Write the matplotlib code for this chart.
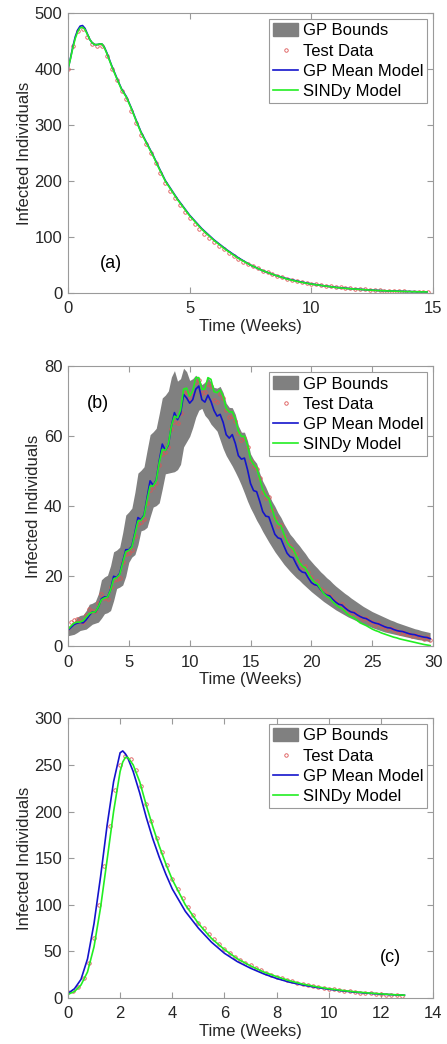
import matplotlib
matplotlib.use("Agg")
import matplotlib.pyplot as plt
from matplotlib.patches import Patch
from matplotlib.lines import Line2D

plt.rcParams['font.family'] = ['Liberation Sans', 'DejaVu Sans']

# ---------------- panel (a) ----------------
t_a = [0, 0.1, 0.2, 0.3, 0.4, 0.5, 0.6, 0.7, 0.8, 0.9, 1.0, 1.1, 1.2, 1.3, 1.4, 1.5,
       1.6, 1.8, 2.0, 2.2, 2.4, 2.6, 2.8, 3.0, 3.25, 3.5, 3.75, 4.0, 4.5, 5.0, 5.5,
       6.0, 6.5, 7.0, 7.5, 8.0, 8.5, 9.0, 9.5, 10.0, 10.5, 11.0, 11.5, 12.0, 12.5,
       13.0, 13.5, 14.0, 14.5, 14.75]
gp_mean_a = [400, 419, 440, 458, 470, 477, 478, 473, 463, 453, 447, 444, 444, 445,
             445, 439, 429, 406, 385, 365, 351, 331, 309, 288, 267, 246, 223, 201,
             168, 139, 115, 95, 78, 63, 50, 40, 32, 25.5, 20.5, 16.2, 13, 10.2, 8.2,
             6.6, 5.1, 4.1, 3.3, 2.7, 2.2, 2.0]
sindy_a = [400, 418, 438, 455, 467, 474, 475, 471, 462, 453, 447, 444, 444, 445,
           445, 438, 428, 405, 384, 364, 350, 330, 308, 287, 266, 245, 222, 200,
           167, 138, 114, 94, 77, 62, 50, 40, 32, 25, 20, 16, 13, 10, 8, 6.5, 5,
           4, 3.2, 2.6, 2.1, 2.0]
t_test_a = [0.2 * i for i in range(75)]
test_a = [401, 442, 468, 472, 458, 445, 442, 441, 424, 401,
          380, 361, 346, 326, 304, 283, 266, 250, 232, 214,
          196, 182, 169, 157, 145, 134, 124, 115, 106, 98,
          91, 84, 78, 72, 66, 61, 56, 52, 48, 44,
          40, 37, 34, 31, 28.5, 26, 24, 22, 20, 18.5,
          17, 15.6, 14.3, 13.1, 12.0, 11.0, 10.1, 9.2, 8.4, 7.7,
          7.0, 6.4, 5.8, 5.3, 4.8, 4.4, 4.0, 3.6, 3.3, 3.0,
          2.7, 2.4, 2.2, 2.0, 1.8]

# ---------------- panel (b) ----------------
t_b = [0.25 * i for i in range(120)]
gp_mean_b = [4.5, 5.4, 6.2, 6.6, 6.8, 6.7, 7.6, 8.8, 9.8, 9.7, 11.2, 13.6,
             14.1, 14.0, 16.2, 20.0, 19.7, 20.8, 24.2, 27.6, 27.6, 28.6, 32.5, 36.8,
             36.2, 37.5, 42.5, 47.3, 46.0, 47.5, 53.0, 57.8, 56.0, 57.5, 63.0, 66.8,
             64.8, 66.5, 72.0, 71.0, 69.5, 70.5, 73.5, 74.4, 70.5, 69.8, 71.8, 70.0,
             67.4, 65.8, 66.3, 64.0, 60.5, 59.5, 60.5, 58.0, 54.5, 53.5, 53.8, 50.5,
             46.5, 44.5, 44.2, 41.5, 38.5, 37.2, 37.0, 34.5, 32.0, 31.0, 30.7, 28.6,
             26.6, 25.6, 25.3, 23.5, 21.9, 21.2, 21.0, 19.5, 18.2, 17.6, 17.4, 16.2,
             15.2, 14.6, 14.4, 13.4, 12.6, 12.0, 11.8, 11.0, 10.3, 9.8, 9.6, 9.0,
             8.5, 8.1, 7.9, 7.4, 6.9, 6.6, 6.4, 6.0, 5.6, 5.3, 5.2, 4.8, 4.5, 4.3,
             4.2, 3.9, 3.6, 3.4, 3.3, 3.0, 2.8, 2.6, 2.5, 2.2]
sindy_b = [4.8, 5.8, 6.6, 6.9, 6.9, 7.3, 8.3, 9.3, 9.7, 9.8, 11.3, 13.3,
           13.8, 14.0, 16.0, 19.2, 19.6, 20.5, 23.8, 27.0, 27.4, 28.3, 32.0, 35.8,
           36.0, 37.2, 41.8, 45.8, 45.8, 47.3, 52.5, 56.3, 56.0, 57.8, 63.0, 65.8,
           65.3, 67.5, 73.5, 73.8, 71.5, 73.0, 76.8, 76.8, 73.5, 73.5, 76.8, 76.3,
           72.8, 72.5, 73.3, 71.5, 68.0, 67.0, 67.0, 65.0, 61.5, 60.0, 60.0, 57.5,
           53.5, 52.0, 51.0, 48.0, 44.8, 43.0, 42.3, 39.5, 36.5, 35.0, 34.4, 32.0,
           29.7, 28.5, 27.9, 25.9, 24.0, 22.9, 22.4, 20.8, 19.3, 18.3, 17.8, 16.4,
           15.1, 14.3, 13.8, 12.7, 11.9, 11.2, 10.8, 10.0, 9.1, 8.5, 8.1, 7.4,
           6.7, 6.3, 5.9, 5.4, 4.9, 4.5, 4.2, 3.8, 3.5, 3.2, 2.9, 2.6, 2.4, 2.1,
           1.9, 1.7, 1.5, 1.3, 1.1, 0.9, 0.7, 0.5, 0.35, 0.2]
test_b = [5.2, 6.8, 7.4, 7.9, 7.2, 7.0, 8.9, 10.6, 10.2, 10.0, 12.4, 14.8,
          13.9, 13.6, 16.8, 19.0, 19.2, 19.6, 24.0, 26.5, 26.8, 27.5, 31.5, 35.0,
          35.6, 36.5, 41.0, 44.6, 45.5, 46.8, 51.8, 55.0, 55.5, 57.0, 62.0, 64.0,
          63.8, 66.8, 72.5, 72.8, 71.0, 72.3, 75.5, 76.0, 72.5, 72.8, 75.0, 74.5,
          70.5, 69.8, 72.0, 71.0, 67.5, 65.5, 65.8, 64.5, 61.0, 59.0, 59.5, 57.0,
          53.0, 51.5, 50.8, 48.2, 44.0, 42.5, 42.8, 39.0, 36.8, 34.5, 34.8, 31.5,
          30.2, 28.8, 27.5, 26.5, 24.5, 22.6, 22.8, 21.2, 19.8, 18.2, 18.6, 16.5,
          15.8, 14.8, 14.5, 13.2, 12.6, 11.8, 12.0, 10.8, 10.2, 9.5, 9.8, 8.8,
          8.4, 7.8, 8.0, 7.2, 6.8, 6.2, 6.6, 5.8, 5.5, 5.0, 5.3, 4.6, 4.4, 3.9,
          4.2, 3.6, 3.5, 3.0, 3.3, 2.8, 2.6, 2.2, 2.5, 1.8]
gp_upper_b = [5.5, 6.0, 6.8, 8.3, 8.8, 9.0, 10.2, 12.0, 12.3, 12.8, 15.0, 19.0,
              19.8, 20.3, 23.0, 27.0, 27.5, 28.3, 32.5, 37.5, 38.4, 39.5, 44.0, 49.5,
              50.3, 51.3, 56.0, 60.5, 61.3, 62.3, 66.5, 71.0, 71.8, 73.0, 77.0, 78.8,
              75.8, 76.5, 79.5, 78.5, 76.0, 76.5, 77.5, 76.5, 74.8, 75.5, 76.9, 75.5,
              74.0, 73.8, 74.3, 72.5, 69.5, 68.3, 68.2, 66.3, 63.0, 61.2, 61.2, 58.8,
              55.0, 53.4, 52.3, 49.5, 47.2, 45.5, 43.5, 41.5, 40.0, 38.2, 36.8, 35.0,
              33.5, 32.0, 31.0, 29.8, 28.8, 27.6, 26.5, 25.2, 24.2, 23.2, 22.3, 21.3,
              20.5, 19.6, 18.9, 18.0, 17.2, 16.5, 15.8, 15.1, 14.5, 13.8, 13.2, 12.6,
              12.0, 11.4, 10.9, 10.4, 9.9, 9.5, 9.1, 8.7, 8.3, 7.9, 7.5, 7.2, 6.8, 6.5,
              6.2, 5.9, 5.6, 5.3, 5.0, 4.8, 4.5, 4.3, 4.1, 3.9]
gp_lower_b = [3.0, 3.2, 3.4, 3.9, 4.5, 4.7, 4.9, 5.6, 6.3, 6.6, 6.9, 8.0,
              9.3, 9.6, 10.2, 13.0, 16.5, 16.9, 17.5, 20.0, 24.0, 25.5, 26.2, 29.0,
              33.0, 33.3, 34.0, 37.0, 39.8, 40.2, 41.0, 45.0, 49.3, 49.5, 49.7, 49.9,
              50.5, 52.0, 57.0, 58.5, 60.0, 62.5, 65.5, 67.5, 68.0, 66.0, 65.0, 63.5,
              62.5, 61.5, 59.0, 56.5, 54.5, 53.0, 51.5, 49.8, 48.0, 46.0, 43.8, 41.5,
              39.5, 37.8, 36.0, 34.5, 32.8, 31.3, 29.8, 28.4, 27.0, 25.8, 24.6, 23.4,
              22.4, 21.4, 20.5, 19.6, 18.9, 18.0, 17.2, 16.4, 15.6, 14.9, 14.2, 13.5,
              12.8, 12.2, 11.6, 11.0, 10.4, 9.9, 9.4, 8.9, 8.4, 8.0, 7.6, 7.2,
              6.8, 6.4, 6.0, 5.7, 5.3, 5.0, 4.7, 4.4, 4.1, 3.9, 3.7, 3.5, 3.3, 3.1,
              2.9, 2.7, 2.5, 2.3, 2.1, 1.9, 1.8, 1.6, 1.5, 1.3]

# ---------------- panel (c) ----------------
t_c = [0, 0.25, 0.5, 0.75, 1.0, 1.25, 1.5, 1.75, 2.0, 2.1, 2.2, 2.3, 2.5, 2.75,
       3.0, 3.25, 3.5, 3.75, 4.0, 4.5, 5.0, 5.5, 6.0, 6.5, 7.0, 7.5, 8.0, 8.5,
       9.0, 9.5, 10.0, 10.5, 11.0, 11.5, 12.0, 12.5, 12.9]
gp_mean_c = [5, 10, 20, 42, 80, 130, 185, 232, 263, 265, 262, 257, 243, 220,
             194, 171, 151, 133, 117, 93, 75, 60, 48, 39, 32, 26, 21, 17, 14,
             11.5, 9.5, 7.8, 6.3, 5.2, 4.2, 3.5, 3.0]
sindy_c = [4, 7, 14, 28, 55, 97, 148, 200, 243, 253, 258, 258, 250, 232,
           207, 184, 163, 144, 127, 100, 80, 64, 52, 42, 34.5, 28, 23, 18.5, 15,
           12.3, 10, 8.2, 6.7, 5.5, 4.5, 3.6, 3.1]
t_test_c = [0.2 * i for i in range(65)]
test_c = [6, 8, 12, 22, 38, 64, 100, 142, 185, 223,
          250, 260, 256, 244, 227, 208, 190, 172, 157, 143,
          128, 117, 107, 98, 89, 81, 75, 69, 63, 58,
          53, 48.5, 44.5, 41, 38, 35, 32.2, 29.6, 27.2, 25,
          23, 21.2, 19.5, 18, 16.5, 15.2, 14, 12.9, 11.9, 10.9,
          10, 9.2, 8.4, 7.7, 7.1, 6.5, 5.9, 5.4, 4.9, 4.5,
          4.1, 3.7, 3.3, 2.9, 2.5]

labels = ["GP Bounds", "Test Data", "GP Mean Model", "SINDy Model"]
band_color = "#808080"
blue = "#1414cc"
green = "#22ee22"
red = "#dd5555"

fig = plt.figure(figsize=(4.47, 10.44), dpi=100)
left, width, height = 0.152, 0.817, 0.268
bottoms = [0.7193, 0.381, 0.044]


def style_axes(ax, xlim, xticks, ylim, yticks):
    ax.set_xlim(xlim)
    ax.set_ylim(ylim)
    ax.set_xticks(xticks)
    ax.set_yticks(yticks)
    ax.tick_params(direction="in", top=True, right=True, length=4, width=0.8,
                   color="#9a9a9a", labelsize=12, labelcolor="#262626")
    ax.tick_params(axis="x", pad=6)
    ax.tick_params(axis="y", pad=4)
    for s in ax.spines.values():
        s.set_color("#9a9a9a")
        s.set_linewidth(0.8)
    ax.set_xlabel("Time (Weeks)", fontsize=12, color="#262626", labelpad=2)
    ax.set_ylabel("Infected Individuals", fontsize=12, color="#262626", labelpad=2)


def add_legend(ax):
    handles = [Patch(facecolor=band_color, edgecolor=band_color),
               Line2D([], [], ls="none", marker="o", ms=2.5, mfc="none",
                      mec=red, mew=0.6),
               Line2D([], [], color=blue, lw=1.2),
               Line2D([], [], color=green, lw=1.2)]
    leg = ax.legend(handles, labels, loc="upper right", fontsize=12,
                    fancybox=False, framealpha=1, edgecolor="#9a9a9a",
                    borderaxespad=0.35, borderpad=0.25, labelspacing=0.3,
                    handlelength=1.5, handleheight=0.8, handletextpad=0.25)
    leg.get_frame().set_linewidth(0.8)


def draw_models(ax, t_test, test, t, mean, sindy):
    ax.plot(t_test, test, ls="none", marker="o", ms=2.5, mfc="none", mec=red, mew=0.6)
    ax.plot(t, mean, color=blue, lw=1.2)
    ax.plot(t, sindy, color=green, lw=1.2)


# (a)
ax1 = fig.add_axes([left, bottoms[0], width, height])
draw_models(ax1, t_test_a, test_a, t_a, gp_mean_a, sindy_a)
style_axes(ax1, (0, 15), [0, 5, 10, 15], (0, 500), range(0, 501, 100))
ax1.text(1.75, 52, "(a)", fontsize=13, ha="center", va="center")
add_legend(ax1)

# (b)
ax2 = fig.add_axes([left, bottoms[1], width, height])
ax2.fill_between(t_b, gp_lower_b, gp_upper_b, color=band_color, lw=0)
draw_models(ax2, t_b, test_b, t_b, gp_mean_b, sindy_b)
style_axes(ax2, (0, 30), range(0, 31, 5), (0, 80), range(0, 81, 20))
ax2.text(2.5, 69.5, "(b)", fontsize=13, ha="center", va="center")
add_legend(ax2)

# (c)
ax3 = fig.add_axes([left, bottoms[2], width, height])
draw_models(ax3, t_test_c, test_c, t_c, gp_mean_c, sindy_c)
style_axes(ax3, (0, 14), range(0, 15, 2), (0, 300), range(0, 301, 50))
ax3.text(12.35, 44, "(c)", fontsize=13, ha="center", va="center")
add_legend(ax3)

fig.savefig("out.png", dpi=100)
